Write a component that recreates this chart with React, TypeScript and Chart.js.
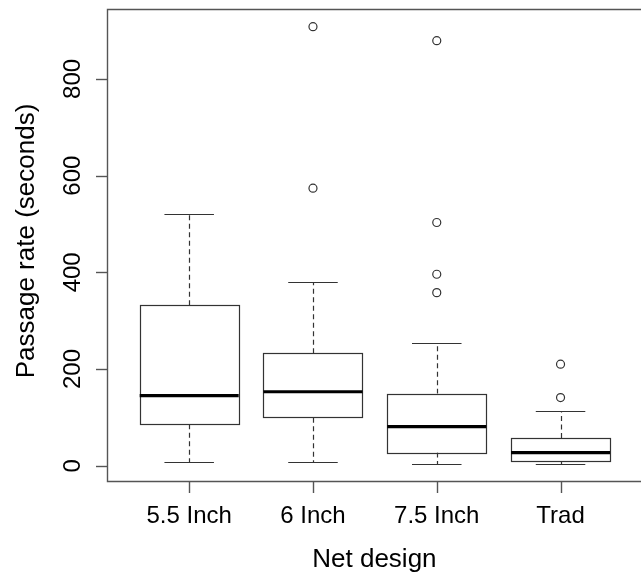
import React, { useEffect, useRef } from "react";
import { Chart, registerables } from "chart.js";

Chart.register(...registerables);

const categories = ["5.5 Inch", "6 Inch", "7.5 Inch", "Trad"];
const whiskerLow = [7, 7, 3.5, 3.5];
const q1 = [85.6, 99.3, 27.6, 9.7];
const medians = [145, 153, 81, 27];
const q3 = [332, 232.5, 149, 57.3];
const whiskerHigh = [520, 379, 254, 113];
const outlierGroups = [[], [908, 574], [879, 503, 396, 358], [210, 141]];
const yTicks = [0, 200, 400, 600, 800];
const xTitle = "Net design";
const yTitle = "Passage rate (seconds)";

const FONT = '24px "Liberation Sans", Arial, sans-serif';
const TITLE_FONT = '26px "Liberation Sans", Arial, sans-serif';

const boxPlugin = {
  id: "boxPlugin",
  beforeDatasetsDraw(chart: any) {
    const ctx = chart.ctx;
    const xs = chart.scales.x;
    const ys = chart.scales.y;
    const unit = xs.getPixelForValue(2) - xs.getPixelForValue(1);
    const boxHalf = unit * 0.4;
    const capHalf = unit * 0.2;
    const r = (v: number) => Math.round(v) + 0.5;
    ctx.save();
    categories.forEach((_, i) => {
      const cx = xs.getPixelForValue(i + 1);
      const yLo = ys.getPixelForValue(whiskerLow[i]);
      const yQ1 = ys.getPixelForValue(q1[i]);
      const yMed = ys.getPixelForValue(medians[i]);
      const yQ3 = ys.getPixelForValue(q3[i]);
      const yHi = ys.getPixelForValue(whiskerHigh[i]);
      ctx.strokeStyle = "#333";
      ctx.lineWidth = 1.2;
      ctx.setLineDash([5, 3.5]);
      ctx.beginPath();
      ctx.moveTo(r(cx), yQ3);
      ctx.lineTo(r(cx), yHi);
      ctx.moveTo(r(cx), yQ1);
      ctx.lineTo(r(cx), yLo);
      ctx.stroke();
      ctx.setLineDash([]);
      ctx.beginPath();
      ctx.moveTo(cx - capHalf, r(yHi));
      ctx.lineTo(cx + capHalf, r(yHi));
      ctx.moveTo(cx - capHalf, r(yLo));
      ctx.lineTo(cx + capHalf, r(yLo));
      ctx.stroke();
      ctx.fillStyle = "#fff";
      ctx.fillRect(cx - boxHalf, yQ3, boxHalf * 2, yQ1 - yQ3);
      ctx.strokeRect(r(cx - boxHalf), r(yQ3), Math.round(boxHalf * 2), Math.round(yQ1 - yQ3));
      ctx.strokeStyle = "#000";
      ctx.lineWidth = 3.2;
      ctx.beginPath();
      ctx.moveTo(cx - boxHalf, yMed);
      ctx.lineTo(cx + boxHalf, yMed);
      ctx.stroke();
    });
    ctx.restore();
  },
  afterDraw(chart: any) {
    const ctx = chart.ctx;
    const xs = chart.scales.x;
    const ys = chart.scales.y;
    const a = chart.chartArea;
    const r = (v: number) => Math.round(v) + 0.5;
    ctx.save();
    ctx.strokeStyle = "#555";
    ctx.lineWidth = 1.4;
    ctx.beginPath();
    ctx.moveTo(chart.width + 2, r(a.top));
    ctx.lineTo(r(a.left), r(a.top));
    ctx.lineTo(r(a.left), r(a.bottom));
    ctx.lineTo(chart.width + 2, r(a.bottom));
    ctx.stroke();
    ctx.fillStyle = "#000";
    ctx.font = FONT;
    yTicks.forEach((v) => {
      const y = ys.getPixelForValue(v);
      ctx.beginPath();
      ctx.moveTo(a.left - 11, r(y));
      ctx.lineTo(a.left, r(y));
      ctx.stroke();
      ctx.save();
      ctx.translate(80, y);
      ctx.rotate(-Math.PI / 2);
      ctx.textAlign = "center";
      ctx.textBaseline = "alphabetic";
      ctx.fillText(String(v), 0, 0);
      ctx.restore();
    });
    categories.forEach((c, i) => {
      const x = xs.getPixelForValue(i + 1);
      ctx.beginPath();
      ctx.moveTo(r(x), a.bottom);
      ctx.lineTo(r(x), a.bottom + 12);
      ctx.stroke();
      ctx.textAlign = "center";
      ctx.textBaseline = "alphabetic";
      ctx.fillText(c, x, 523);
    });
    ctx.font = TITLE_FONT;
    const plotRight = xs.getPixelForValue(xs.max) + 6;
    ctx.textAlign = "center";
    ctx.fillText(xTitle, (a.left + plotRight) / 2, 567);
    ctx.save();
    ctx.translate(34, (a.top + a.bottom) / 2 - 4);
    ctx.rotate(-Math.PI / 2);
    ctx.fillText(yTitle, 0, 0);
    ctx.restore();
    ctx.restore();
  },
};

export default function App() {
  const ref = useRef<HTMLCanvasElement>(null);
  useEffect(() => {
    document.body.style.margin = "0";
    const outlierPoints: { x: number; y: number }[] = [];
    outlierGroups.forEach((g, i) => g.forEach((v) => outlierPoints.push({ x: i + 1, y: v })));
    const chart = new Chart(ref.current!, {
      type: "scatter",
      data: {
        datasets: [
          {
            data: outlierPoints,
            pointRadius: 4,
            pointBorderWidth: 1.2,
            pointBorderColor: "#333",
            pointBackgroundColor: "rgba(0,0,0,0)",
          },
        ],
      },
      options: {
        animation: false,
        responsive: false,
        layout: { padding: { left: 107, top: 9, right: 0, bottom: 100 } },
        plugins: { legend: { display: false }, tooltip: { enabled: false } },
        scales: {
          x: { type: "linear", min: 0.336, max: 4.608, display: false },
          y: { type: "linear", min: -31.6, max: 944.6, display: false },
        },
      },
      plugins: [boxPlugin],
    });
    return () => chart.destroy();
  }, []);
  return <canvas ref={ref} width={641} height={581} style={{ display: "block" }} />;
}
